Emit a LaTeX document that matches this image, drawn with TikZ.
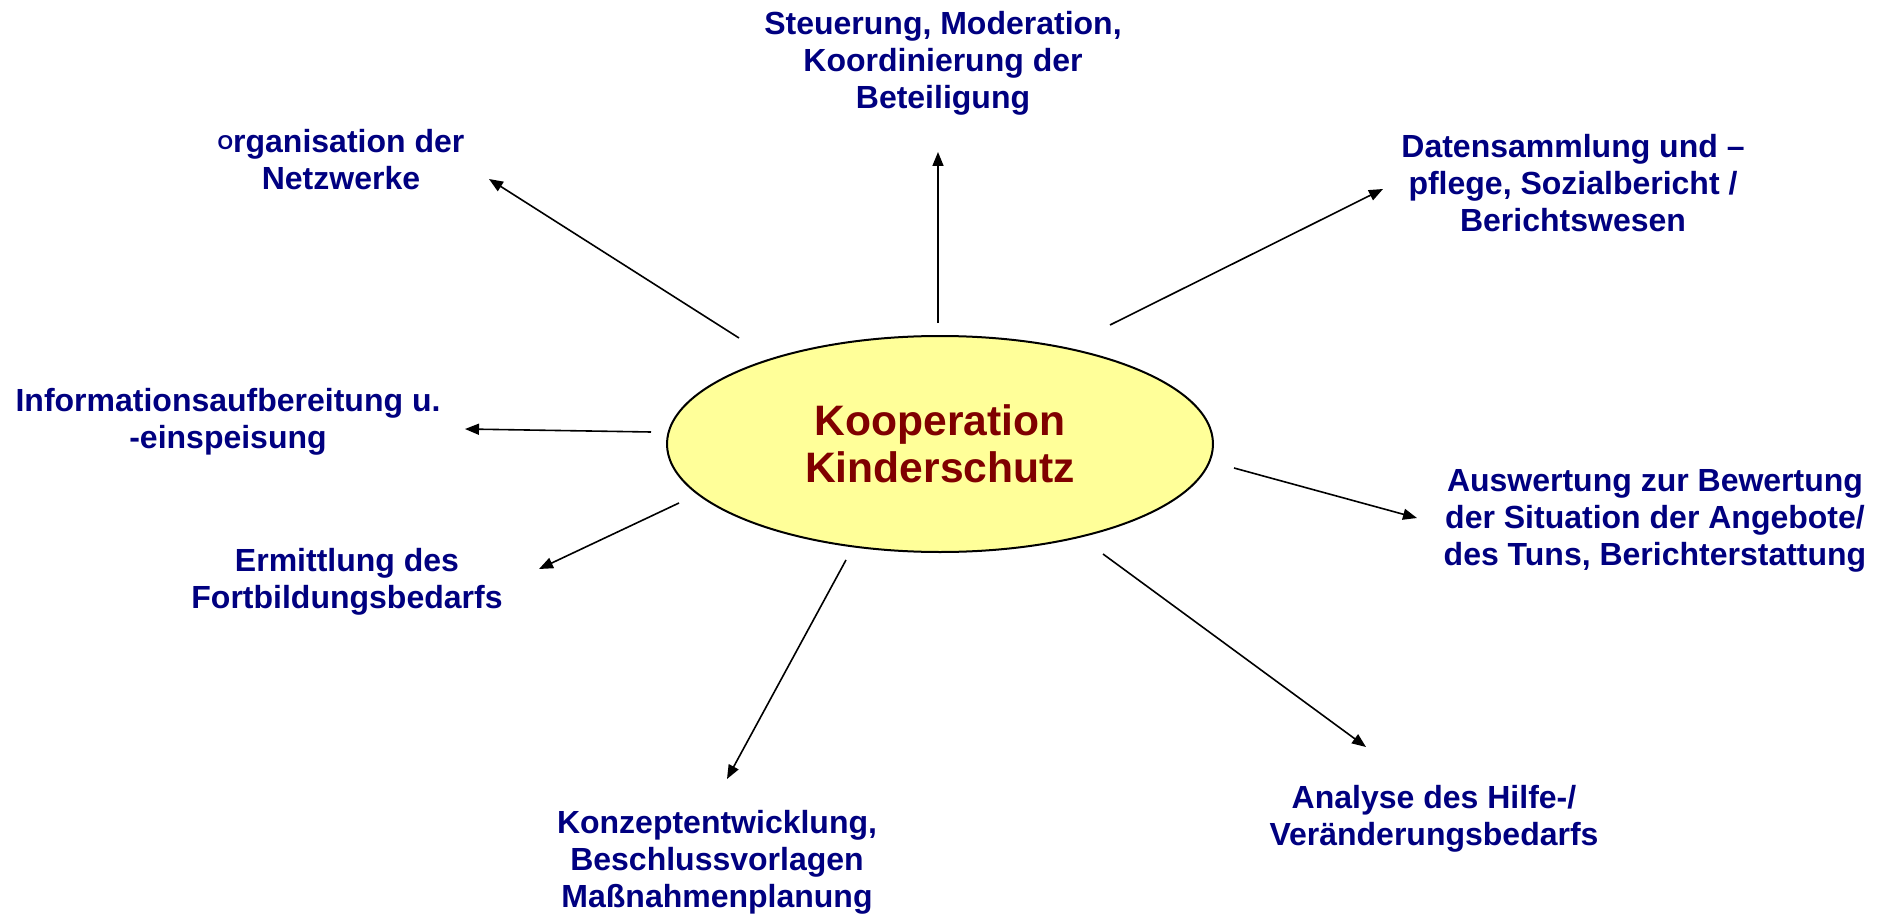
\documentclass[tikz,border=0pt]{standalone}
\usepackage{fontspec}
\setmainfont{Liberation Sans}
\usetikzlibrary{shapes.geometric,arrows.meta}
\definecolor{lblblue}{HTML}{000080}
\definecolor{titlered}{HTML}{800000}
\definecolor{ellfill}{HTML}{FFFF99}
\tikzset{
  lbl/.style={anchor=base, align=center, inner sep=0pt, text=lblblue,
    font=\bfseries\fontsize{16}{18.5}\selectfont},
  conn/.style={draw=black, line width=0.8pt, -{Triangle[length=7pt,width=5.5pt]}},
  hub/.style={ellipse, draw=black, line width=1pt, fill=ellfill,
    minimum width=273pt, minimum height=108pt, inner sep=0pt,
    text=titlered, align=center, font=\bfseries\fontsize{21.3}{23.5}\selectfont}
}
\begin{document}
\begin{tikzpicture}[x=0.5pt,y=-0.5pt]
\useasboundingbox (0,0) rectangle (1886,915);
\node[hub] (hub) at (940,444) {Kooperation\\Kinderschutz};

% anchor=base refers to the baseline of the last line
\node[lbl] (steu) at (943,109) {Steuerung, Moderation,\\Koordinierung der\\Beteiligung};
\node[lbl] (orga) at (341,190) {\raisebox{2pt}{\fontsize{10}{10}\selectfont O}rganisation der\\Netzwerke};
\node[lbl] (daten) at (1573,231) {Datensammlung und --\\pflege, Sozialbericht /\\Berichtswesen};
\node[lbl] (info) at (228,448) {Informationsaufbereitung u.\\-einspeisung};
\node[lbl] (ausw) at (1655,565) {Auswertung zur Bewertung\\der Situation der Angebote/\\des Tuns, Berichterstattung};
\node[lbl] (ermi) at (347,608) {Ermittlung des\\Fortbildungsbedarfs};
\node[lbl] (konz) at (717,907) {Konzeptentwicklung,\\Beschlussvorlagen\\Maßnahmenplanung};
\node[lbl] (anal) at (1434,845) {Analyse des Hilfe-/\\Veränderungsbedarfs};

\coordinate (s1) at (739,338); \coordinate (t1) at (489,179);
\coordinate (s2) at (938,323); \coordinate (t2) at (938,152);
\coordinate (s3) at (1110,325); \coordinate (t3) at (1383,189);
\coordinate (s4) at (651,432); \coordinate (t4) at (465,429);
\coordinate (s5) at (1234,468); \coordinate (t5) at (1417,518);
\coordinate (s6) at (679,503); \coordinate (t6) at (539,569);
\coordinate (s7) at (846,560); \coordinate (t7) at (727,779);
\coordinate (s8) at (1103,554); \coordinate (t8) at (1366,747);

\draw[conn] (s1) -- (t1);
\draw[conn] (s2) -- (t2);
\draw[conn] (s3) -- (t3);
\draw[conn] (s4) -- (t4);
\draw[conn] (s5) -- (t5);
\draw[conn] (s6) -- (t6);
\draw[conn] (s7) -- (t7);
\draw[conn] (s8) -- (t8);
\end{tikzpicture}
\end{document}
